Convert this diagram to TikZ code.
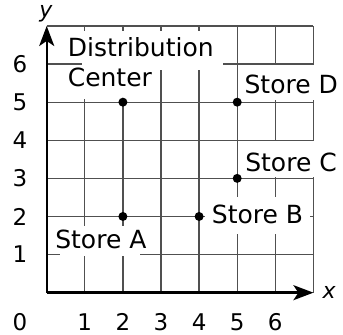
\documentclass[tikz,border=0pt]{standalone}
\usepackage{fontspec}
\setmainfont{DejaVu Sans}
\usetikzlibrary{arrows.meta}
\definecolor{gridgray}{HTML}{505050}
\tikzset{
  gridline/.style={gridgray, line width=1.3pt},
  axisline/.style={black, line width=2.4pt, -{Stealth[length=20pt,width=15pt,inset=5pt]}},
  lbl/.style={font=\fontsize{25}{30}\selectfont, inner sep=0pt},
  num/.style={font=\fontsize{23}{27}\selectfont, inner sep=0pt},
  axlbl/.style={font=\fontsize{22}{26}\selectfont\itshape, inner sep=0pt},
  dot/.style={circle, fill=black, inner sep=0pt, minimum size=9pt},
  mask/.style={fill=white},
}
\begin{document}
\begin{tikzpicture}[x=38.1pt,y=38.1pt]
\useasboundingbox[fill=white] (-1.226,-1.110) rectangle (7.777,7.682);
% grid
\foreach \i in {1,...,7} {
  \draw[gridline] (0,\i) -- (7,\i);
  \draw[gridline] (\i,0) -- (\i,7);
}
% white backgrounds behind labels
\fill[mask] (0.929,5.840) rectangle (4.627,6.864);
\fill[mask] (0.349,5.084) rectangle (2.764,5.840);
\fill[mask] (5.074,5.050) rectangle (7.777,5.976);
\fill[mask] (5.074,3.030) rectangle (7.777,3.982);
\fill[mask] (4.155,1.540) rectangle (6.911,2.512);
\fill[mask] (0.349,0.962) rectangle (2.449,1.750);
% axes
\coordinate (O) at (0,0);
\coordinate (xend) at (7,0);
\coordinate (yend) at (0,7);
\draw[axisline] (O) -- (xend);
\draw[axisline] (O) -- (yend);
\node[axlbl, anchor=base] (xlab) at (7.41,-0.14) {x};
\node[axlbl, anchor=base] (ylab) at (-0.02,7.21) {y};
% tick numbers
\node[num] (n0) at (-0.70,-0.77) {0};
\foreach \i in {1,...,6} {
  \node[num] (nx\i) at (\i,-0.77) {\i};
  \node[num] (ny\i) at (-0.70,\i) {\i};
}
% points
\node[dot] (pdc) at (2,5) {};
\node[dot] (pd) at (5,5) {};
\node[dot] (pc) at (5,3) {};
\node[dot] (pb) at (4,2) {};
\node[dot] (pa) at (2,2) {};
% labels
\node[lbl, anchor=base west, align=left] (ldc) at (0.549,5.407) {Distribution\\Center};
\node[lbl, anchor=base west] (ld) at (5.189,5.215) {Store D};
\node[lbl, anchor=base west] (lc) at (5.207,3.176) {Store C};
\node[lbl, anchor=base west] (lb) at (4.331,1.803) {Store B};
\node[lbl, anchor=base west] (la) at (0.220,1.165) {Store A};
\end{tikzpicture}
\end{document}
